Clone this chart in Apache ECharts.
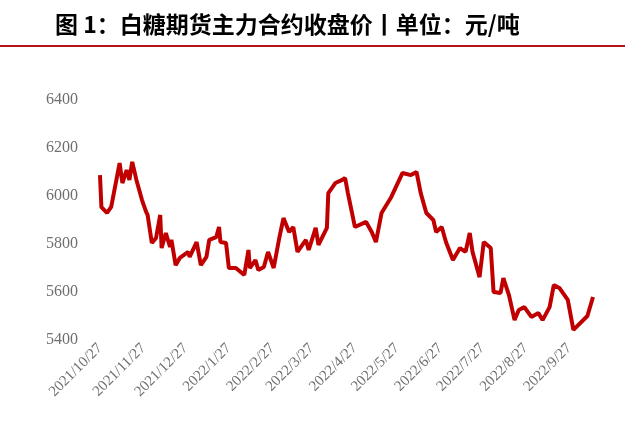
<!DOCTYPE html>
<html><head><meta charset="utf-8">
<script src="https://cdn.jsdelivr.net/npm/echarts@6/dist/echarts.min.js"></script>
<style>html,body{margin:0;padding:0;background:#fff}#c{width:625px;height:441px}</style>
</head><body><div id="c"></div>
<script>
// close prices (yuan/ton)
const priceDates = ['2021/10/27','2021/10/28','2021/11/1','2021/11/4','2021/11/10','2021/11/12','2021/11/15','2021/11/17','2021/11/19','2021/11/22','2021/11/26','2021/11/29','2021/11/30',
  '2021/12/3','2021/12/6','2021/12/9','2021/12/10','2021/12/13','2021/12/16','2021/12/17','2021/12/20','2021/12/23','2021/12/29','2021/12/30',
  '2022/1/4','2022/1/7','2022/1/11','2022/1/13','2022/1/18','2022/1/20','2022/1/21','2022/1/25','2022/1/27','2022/2/1','2022/2/7','2022/2/10','2022/2/11','2022/2/15','2022/2/17','2022/2/21','2022/2/24','2022/2/28',
  '2022/3/4','2022/3/7','2022/3/11','2022/3/14','2022/3/17','2022/3/23','2022/3/25','2022/3/30','2022/4/1','2022/4/7','2022/4/8','2022/4/11','2022/4/13','2022/4/18','2022/4/20','2022/4/22','2022/4/27',
  '2022/5/5','2022/5/9','2022/5/12','2022/5/16','2022/5/23','2022/5/27','2022/5/31','2022/6/6','2022/6/10','2022/6/13','2022/6/17','2022/6/22','2022/6/24','2022/6/28',
  '2022/7/1','2022/7/6','2022/7/11','2022/7/15','2022/7/18','2022/7/20','2022/7/25','2022/7/28','2022/8/2','2022/8/4','2022/8/9','2022/8/11','2022/8/15','2022/8/19','2022/8/22','2022/8/26','2022/8/31',
  '2022/9/5','2022/9/8','2022/9/13','2022/9/16','2022/9/20','2022/9/26','2022/9/30','2022/10/10','2022/10/14'];
const prices = [6087,5954,5930,5955,6137,6054,6108,6067,6142,6067,5983,5933,5921,
  5804,5825,5921,5783,5846,5788,5817,5712,5742,5767,5746,
  5808,5712,5746,5817,5829,5871,5808,5804,5700,5700,5671,5775,5700,5733,5692,5704,5767,5700,
  5825,5908,5850,5871,5767,5817,5775,5867,5796,5867,6012,6037,6054,6067,6075,6012,5871,
  5892,5850,5808,5929,5996,6046,6096,6087,6100,6012,5929,5900,5850,5871,
  5808,5733,5783,5767,5846,5767,5662,5808,5783,5600,5596,5658,5587,5483,5525,5537,5496,
  5512,5483,5537,5629,5617,5567,5442,5500,5579];
const yTicks = [5400, 5600, 5800, 6000, 6200, 6400];

// calendar days as categories
const fmt = d => d.getFullYear() + '/' + (d.getMonth() + 1) + '/' + d.getDate();
const days = [];
for (let d = new Date(2021, 9, 27); d <= new Date(2022, 9, 14); d.setDate(d.getDate() + 1)) days.push(fmt(d));
const lookup = {};
priceDates.forEach((k, i) => lookup[k] = prices[i]);
const seriesData = days.map(k => lookup[k] === undefined ? null : lookup[k]);

const chart = echarts.init(document.getElementById('c'));
chart.setOption({
  animation: false,
  grid: { left: 100, right: 32, top: 100, bottom: 101 },
  graphic: [
    { type: 'text', left: 55, top: 13, style: { text: '图 1：白糖期货主力合约收盘价丨单位：元/吨', font: 'bold 23px "Noto Sans CJK SC"', fill: '#000' } },
    { type: 'rect', shape: { x: 0, y: 45, width: 625, height: 2 }, style: { fill: '#b3121b' } }
  ],
  xAxis: {
    type: 'category', data: days, boundaryGap: false,
    axisLine: { show: false }, axisTick: { show: false },
    axisLabel: {
      interval: (i, v) => v.split('/')[2] === '27',
      rotate: 45, color: '#6f6f6f', fontFamily: 'Liberation Serif', fontSize: 15, margin: 6
    }
  },
  yAxis: {
    type: 'value', min: yTicks[0], max: yTicks[yTicks.length - 1], interval: 200,
    splitLine: { show: false }, axisLine: { show: false }, axisTick: { show: false },
    axisLabel: { color: '#6f6f6f', fontFamily: 'Liberation Serif', fontSize: 16, margin: 22, formatter: v => String(v) }
  },
  series: [{
    type: 'line', data: seriesData, connectNulls: true, showSymbol: false,
    lineStyle: { color: '#c00000', width: 4 }
  }]
});
</script></body></html>
